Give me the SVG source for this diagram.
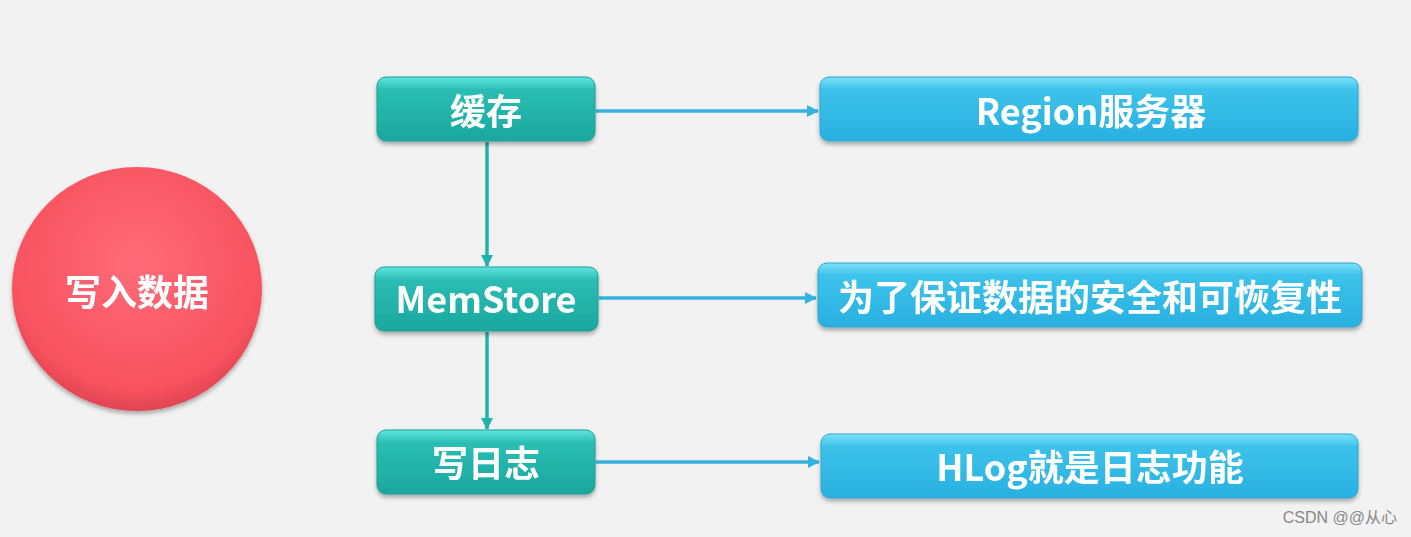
<svg xmlns="http://www.w3.org/2000/svg" width="1411" height="537" viewBox="0 0 1411 537">
<style>
.t{font-family:"Noto Sans CJK SC","Noto Sans",sans-serif;font-weight:bold;fill:#fff;text-anchor:middle;dominant-baseline:central;font-size:36px}
.g{fill:url(#gt);stroke:#1a9e96;stroke-width:1}
.b{fill:url(#gb);stroke:#2aa6d0;stroke-width:1}
.c{stroke-width:3.5;fill:none}
</style>
<defs>
<linearGradient id="gt" x1="0" y1="0" x2="0" y2="1"><stop offset="0" stop-color="#5ee6e0"/><stop offset="0.2" stop-color="#2bbdb3"/><stop offset="1" stop-color="#1aa79e"/></linearGradient>
<linearGradient id="gb" x1="0" y1="0" x2="0" y2="1"><stop offset="0" stop-color="#7fe0fa"/><stop offset="0.2" stop-color="#3cc2ea"/><stop offset="1" stop-color="#29b0e0"/></linearGradient>
<radialGradient id="gr" cx="0.5" cy="0.4" r="0.6"><stop offset="0" stop-color="#ff6b78"/><stop offset="0.85" stop-color="#f7525f"/><stop offset="1" stop-color="#e04452"/></radialGradient>
<marker id="at" markerWidth="12" markerHeight="12" refX="11" refY="6" orient="auto" markerUnits="userSpaceOnUse"><path d="M0,0 L12,6 L0,12z" fill="#22b1ab"/></marker>
<marker id="ab" markerWidth="12" markerHeight="12" refX="11" refY="6" orient="auto" markerUnits="userSpaceOnUse"><path d="M0,0 L12,6 L0,12z" fill="#34b3e0"/></marker>
<filter id="sh" x="-10%" y="-10%" width="120%" height="130%"><feDropShadow dx="0" dy="3" stdDeviation="2" flood-opacity="0.3"/></filter>
</defs>
<rect width="1411" height="537" fill="#f2f2f2"/>
<g id="connectors">
<path class="c" stroke="#34b3e0" d="M596,111 H818" marker-end="url(#ab)"/>
<path class="c" stroke="#34b3e0" d="M599,298 H816" marker-end="url(#ab)"/>
<path class="c" stroke="#34b3e0" d="M596,462 H819" marker-end="url(#ab)"/>
<path class="c" stroke="#22b1ab" d="M487,142 V266" marker-end="url(#at)"/>
<path class="c" stroke="#22b1ab" d="M487,332 V429" marker-end="url(#at)"/>
</g>
<g id="write" filter="url(#sh)"><ellipse cx="137" cy="289" rx="125" ry="122" fill="url(#gr)"/><text class="t" x="137" y="290">写入数据</text></g>
<g id="cache" filter="url(#sh)"><rect class="g" x="377" y="77" width="218" height="64" rx="9"/><text class="t" x="486" y="109">缓存</text></g>
<g id="memstore" filter="url(#sh)"><rect class="g" x="375" y="267" width="223" height="64" rx="9"/><text class="t" x="486" y="297">MemStore</text></g>
<g id="log" filter="url(#sh)"><rect class="g" x="377" y="430" width="218" height="64" rx="9"/><text class="t" x="486" y="461">写日志</text></g>
<g id="region" filter="url(#sh)"><rect class="b" x="820" y="77" width="538" height="64" rx="9"/><text class="t" x="1091" y="109">Region服务器</text></g>
<g id="safe" filter="url(#sh)"><rect class="b" x="818" y="263" width="544" height="64" rx="9"/><text class="t" x="1090" y="295">为了保证数据的安全和可恢复性</text></g>
<g id="hlog" filter="url(#sh)"><rect class="b" x="821" y="434" width="537" height="64" rx="9"/><text class="t" x="1090" y="465">HLog就是日志功能</text></g>
<text x="1397" y="523" font-family="Liberation Sans,Noto Sans CJK SC,sans-serif" font-size="16" fill="#888" text-anchor="end">CSDN @@从心</text>
</svg>
